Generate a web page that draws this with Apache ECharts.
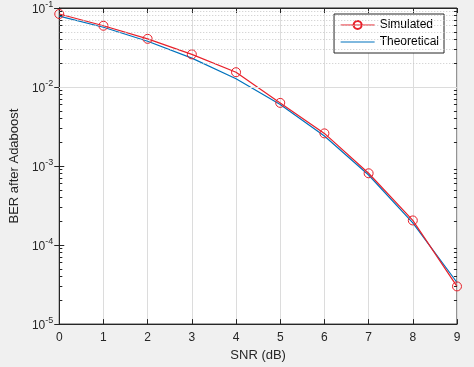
<!DOCTYPE html>
<html><head><meta charset="utf-8">
<script src="https://cdn.jsdelivr.net/npm/echarts@6/dist/echarts.min.js"></script>
<style>html,body{margin:0;padding:0;background:#f0f0f0;}#c{width:474px;height:367px;}</style>
</head><body><div id="c"></div>
<script>
var snr = [0, 1, 2, 3, 4, 5, 6, 7, 8, 9];
var simulated = [0.084, 0.0596, 0.0407, 0.0259, 0.0154, 0.0063, 0.00259, 0.00081, 0.000205, 0.000030];
var theoretical = [0.0790, 0.0570, 0.0380, 0.0232, 0.0127, 0.0060, 0.00240, 0.00077, 0.000191, 0.0000336];
var minorLevels = [];
[1e-5, 1e-4, 1e-3, 1e-2].forEach(function (d) { for (var k = 2; k <= 9; k++) minorLevels.push(+(d * k).toPrecision(3)); });
var majorLevels = [1e-4, 1e-3, 1e-2];

var chart = echarts.init(document.getElementById('c'));
var font = 'Liberation Sans, Arial, sans-serif';
function supFmt(v) {
  var e = Math.round(Math.log10(v));
  return '{b|10}{s|' + e + '}';
}
var yBase = {
  type: 'log', logBase: 10, min: 1e-5, max: 1e-1,
  axisLine: { show: true, lineStyle: { color: '#262626', width: 1 } },
  axisTick: { show: true, inside: true, length: 5, lineStyle: { color: '#262626' } },
  splitLine: { show: false }
};
var xBase = {
  type: 'value', min: 0, max: 9, interval: 1,
  axisLine: { show: true, onZero: false, lineStyle: { color: '#262626', width: 1 } },
  axisTick: { show: true, inside: true, length: 5, lineStyle: { color: '#262626' } }
};
var minorData = minorLevels.map(function (v) { return { yAxis: v }; });
var majorData = majorLevels.map(function (v) { return { yAxis: v }; });
var minorTicks = [];
minorLevels.forEach(function (v) {
  minorTicks.push([{ coord: [0, v] }, { coord: [0.07, v] }]);
  minorTicks.push([{ coord: [8.93, v] }, { coord: [9, v] }]);
});

chart.setOption({
  backgroundColor: '#f0f0f0',
  animation: false,
  textStyle: { fontFamily: font },
  grid: { left: 50, right: 17, top: 6, bottom: 42, show: true, backgroundColor: '#ffffff', borderColor: '#262626', borderWidth: 1 },
  legend: {
    right: 30, top: 14, orient: 'vertical', itemGap: 5, itemWidth: 34, itemHeight: 10,
    backgroundColor: '#ffffff', borderColor: '#262626', borderWidth: 1, borderRadius: 0,
    padding: [5, 5, 5, 6],
    textStyle: { fontFamily: font, fontSize: 12, color: '#000' },
    data: [
      { name: 'Simulated', lineStyle: { width: 1.2, color: '#e8202a' } },
      { name: 'Theoretical', itemStyle: { opacity: 0 }, lineStyle: { type: 'solid', width: 1.2, color: '#0072bd' } }
    ]
  },
  xAxis: [
    Object.assign({}, xBase, {
      position: 'bottom', name: 'SNR (dB)', nameLocation: 'middle', nameGap: 22,
      nameTextStyle: { fontFamily: font, fontSize: 13, color: '#262626' },
      axisLabel: { fontFamily: font, fontSize: 12, color: '#262626', margin: 8 },
      splitLine: { show: true, lineStyle: { color: '#dcdcdc', width: 1 } }
    }),
    Object.assign({}, xBase, { position: 'top', axisLabel: { show: false }, splitLine: { show: false } })
  ],
  yAxis: [
    Object.assign({}, yBase, {
      position: 'left', name: 'BER after Adaboost', nameLocation: 'middle', nameGap: 32,
      nameTextStyle: { fontFamily: font, fontSize: 13, color: '#262626' },
      axisLabel: {
        formatter: supFmt, margin: 6,
        rich: {
          b: { fontFamily: font, fontSize: 12, color: '#262626', padding: [4, 0, 0, 0] },
          s: { fontFamily: font, fontSize: 9, color: '#262626', verticalAlign: 'top', padding: [0, 0, 6, 0] }
        }
      }
    }),
    Object.assign({}, yBase, { position: 'right', axisLabel: { show: false } })
  ],
  series: [
    {
      name: 'Theoretical', type: 'line', data: snr.map(function (x, i) { return [x, theoretical[i]]; }),
      showSymbol: false, symbol: 'none', color: '#0072bd', lineStyle: { color: '#0072bd', width: 1.2 }, z: 3,
      markLine: {
        silent: true, symbol: 'none', label: { show: false }, animation: false,
        lineStyle: { color: '#c8c8c8', type: [1, 2], width: 1 },
        data: minorData
      }
    },
    {
      name: 'Simulated', type: 'line', data: snr.map(function (x, i) { return [x, simulated[i]]; }),
      symbol: 'circle', symbolSize: 9, color: '#e8202a',
      itemStyle: { color: 'rgba(0,0,0,0)', borderColor: '#e8202a', borderWidth: 1 },
      lineStyle: { color: '#e8202a', width: 1.2 }, z: 4,
      markLine: {
        silent: true, symbol: 'none', label: { show: false }, animation: false,
        lineStyle: { color: '#dcdcdc', type: 'solid', width: 1 },
        data: majorData
      }
    },
    {
      name: 'ticks', type: 'line', data: [], z: 5,
      markLine: {
        silent: true, symbol: 'none', label: { show: false }, animation: false,
        lineStyle: { color: '#262626', type: 'solid', width: 1 },
        data: minorTicks
      }
    }
  ]
});
</script></body></html>
